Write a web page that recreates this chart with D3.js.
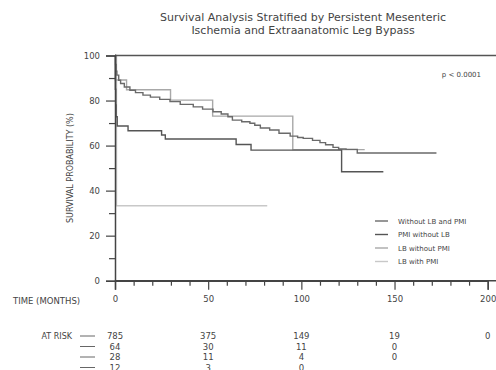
<!DOCTYPE html>
<html>
<head>
<meta charset="utf-8">
<script src="https://cdn.jsdelivr.net/npm/d3@7"></script>
<style>
  body { margin: 0; background: #fff; }
  text { font-family: "DejaVu Sans", sans-serif; fill: #444; }
</style>
</head>
<body>
<svg id="km"></svg>
<script>
const width = 496;
const height = 370;

// series: step points [month, survival %], last point = end of follow-up
const seriesNames = ["Without LB and PMI", "PMI without LB", "LB without PMI", "LB with PMI"];
const seriesColors = ["#6a6a6a", "#555", "#a8a8a8", "#c8c8c8"];

const noLbNoPmi = [
    [0, 100], [0.3, 96], [0.6, 93], [1, 91.3], [2, 89], [3, 87.6], [5, 86], [8, 84.6],
    [11, 83.5], [15, 82.4], [19, 81.5], [24, 80.5], [29.5, 79.5], [35, 78.3], [42, 77.2],
    [47, 76.2], [52.6, 75], [57, 74], [60.6, 72.8], [63, 71.3], [68, 70.6], [72.4, 69.9],
    [75, 69], [78, 67.8], [83, 66.9], [88, 65.5], [94, 64.2], [98, 63.6], [101, 63.2],
    [106, 62.3], [110, 61.3], [113, 60.4], [117, 59.2], [120, 58.5], [124, 58.3],
    [130, 56.7], [172.5, 56.7]
];
const pmiNoLb = [
    [0, 100], [0.2, 85], [0.4, 78], [0.6, 72.8], [1.2, 68.7], [7, 66.6], [25, 64.7],
    [27, 62.9], [65, 60.5], [73, 58], [121.6, 48.4], [144, 48.4]
];
const lbNoPmi = [
    [0, 100], [0.2, 89.1], [6.2, 84.8], [29.8, 80.2], [52.4, 73.1], [95.4, 58.2], [134, 58.2]
];
const lbPmi = [
    [0, 100], [0.8, 33.3], [81.7, 33.3]
];
const allSeries = [noLbNoPmi, pmiNoLb, lbNoPmi, lbPmi];

const xTicks = [0, 50, 100, 150, 200];
const yTicks = [0, 20, 40, 60, 80, 100];
const atRisk = [
    [785, 375, 149, 19, 0],
    [64, 30, 11, 0],
    [28, 11, 4, 0],
    [12, 3, 0]
];

const x = d3.scaleLinear().domain([0, 200]).range([115, 487.7]);
const y = d3.scaleLinear().domain([0, 100]).range([280.7, 55.5]);

const svg = d3.select("#km")
    .attr("width", width)
    .attr("height", height);

// title
svg.append("text")
    .attr("x", 303).attr("y", 21)
    .attr("text-anchor", "middle")
    .style("font-size", "11px")
    .text("Survival Analysis Stratified by Persistent Mesenteric");
svg.append("text")
    .attr("x", 303).attr("y", 33.5)
    .attr("text-anchor", "middle")
    .style("font-size", "11px")
    .text("Ischemia and Extraanatomic Leg Bypass");

// curves
const line = d3.line()
    .x(d => x(d[0]))
    .y(d => y(d[1]))
    .curve(d3.curveStepAfter);

[3, 2, 0, 1].forEach(i => {
    svg.append("path")
        .datum(allSeries[i])
        .attr("fill", "none")
        .attr("stroke", seriesColors[i])
        .attr("stroke-width", 1.4)
        .attr("d", line);
});

// frame top
svg.append("line")
    .attr("x1", 115).attr("x2", width)
    .attr("y1", y(100)).attr("y2", y(100))
    .attr("stroke", "#555").attr("stroke-width", 1.5);

// y axis
const yAxis = svg.append("g")
    .attr("transform", "translate(115,0)")
    .call(d3.axisLeft(y).tickValues(yTicks).tickSize(9).tickPadding(6));
svg.append("g")
    .attr("transform", "translate(115,0)")
    .call(d3.axisLeft(y).tickValues(d3.range(10, 100, 20)).tickSize(6).tickFormat(""))
    .call(g => g.select(".domain").remove());

// x axis
const xAxis = svg.append("g")
    .attr("transform", `translate(0,${y(0)})`)
    .call(d3.axisBottom(x).tickValues(xTicks).tickSize(9).tickPadding(6));
svg.append("g")
    .attr("transform", `translate(0,${y(0)})`)
    .call(d3.axisBottom(x).tickValues(d3.range(10, 201, 10).filter(v => v % 50 !== 0)).tickSize(5).tickFormat(""))
    .call(g => g.select(".domain").remove());
svg.append("line")
    .attr("x1", 115).attr("x2", width)
    .attr("y1", y(0)).attr("y2", y(0))
    .attr("stroke", "#444").attr("stroke-width", 1.5);

svg.selectAll(".domain").attr("stroke", "#444").attr("stroke-width", 1.5);
svg.selectAll(".tick line").attr("stroke", "#444").attr("stroke-width", 1.2);
svg.selectAll(".tick text")
    .style("font-family", "DejaVu Sans")
    .style("font-size", "8.5px")
    .attr("fill", "#444");

// axis labels
svg.append("text")
    .attr("transform", `translate(73,${y(50)}) rotate(-90)`)
    .attr("text-anchor", "middle")
    .style("font-size", "8px")
    .text("SURVIVAL PROBABILITY (%)");
svg.append("text")
    .attr("x", 13).attr("y", 304)
    .style("font-size", "8.5px")
    .text("TIME (MONTHS)");

// p value
svg.append("text")
    .attr("x", 481).attr("y", 76.5)
    .attr("text-anchor", "end")
    .style("font-size", "7px")
    .text("p < 0.0001");

// legend
const legend = svg.append("g");
seriesNames.forEach((name, i) => {
    const ly = 221 + i * 13.5;
    legend.append("line")
        .attr("x1", 375).attr("x2", 388)
        .attr("y1", ly).attr("y2", ly)
        .attr("stroke", seriesColors[i]).attr("stroke-width", 1.4);
    legend.append("text")
        .attr("x", 398).attr("y", ly + 2.5)
        .style("font-size", "7px")
        .attr("fill", "#555")
        .text(name);
});

// at risk table
svg.append("text")
    .attr("x", 72).attr("y", 339)
    .attr("text-anchor", "end")
    .style("font-size", "8px")
    .text("AT RISK");
atRisk.forEach((row, r) => {
    const ry = 336 + r * 10.5;
    svg.append("line")
        .attr("x1", 80).attr("x2", 95)
        .attr("y1", ry).attr("y2", ry)
        .attr("stroke", "#666").attr("stroke-width", 1);
    row.forEach((v, c) => {
        svg.append("text")
            .attr("x", x(xTicks[c])).attr("y", ry + 3)
            .attr("text-anchor", "middle")
            .style("font-size", "8.5px")
            .attr("fill", "#555")
            .text(v);
    });
});
</script>
</body>
</html>
